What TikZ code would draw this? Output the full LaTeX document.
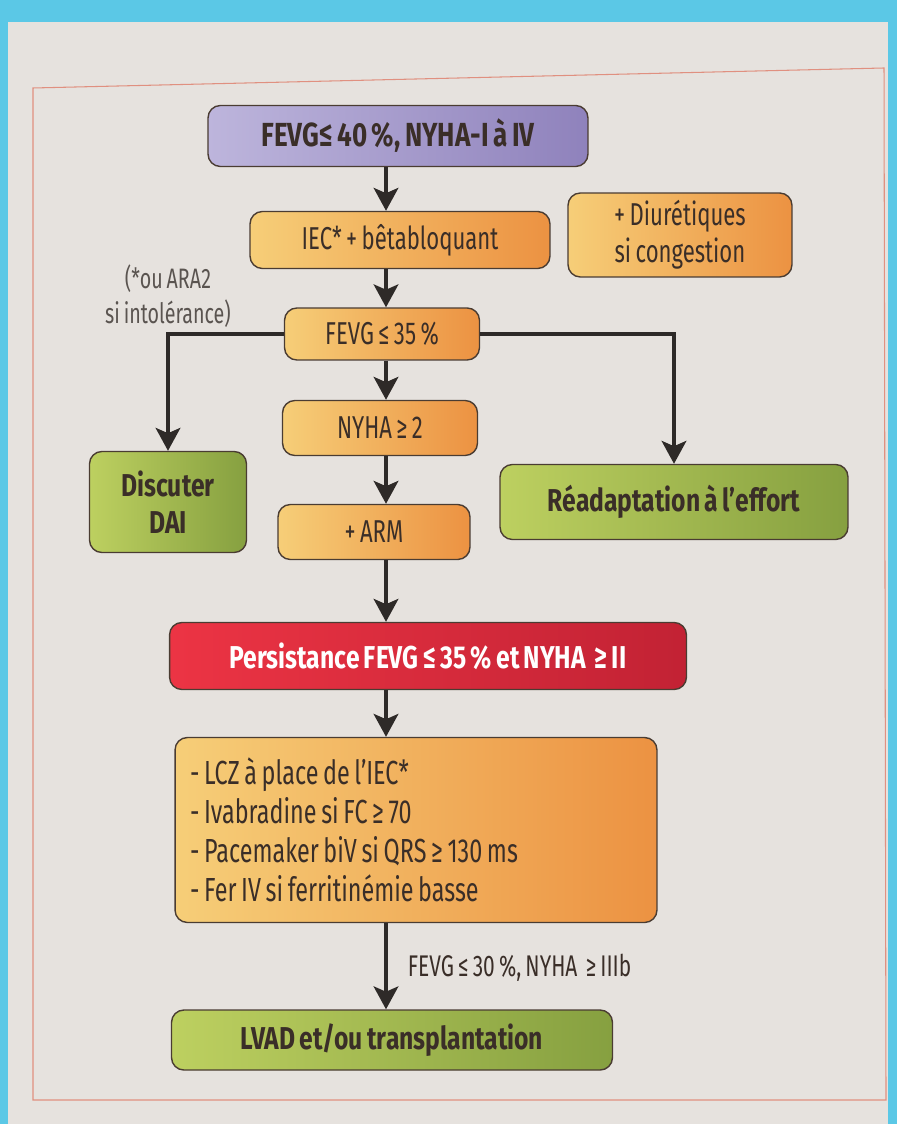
\documentclass[tikz,border=0pt]{standalone}
\usepackage{xcolor}
\usepackage{fontspec}
\setmainfont[FakeStretch=0.7, WordSpace=0.75, BoldFeatures={FakeStretch=0.78}]{Fira Sans}
\usepackage{tikz}
\usetikzlibrary{arrows.meta}

\definecolor{cyanb}{HTML}{5BC8E6}
\definecolor{paper}{HTML}{E6E2DE}
\definecolor{framec}{HTML}{E09080}
\definecolor{boxline}{HTML}{4A3C32}
\definecolor{arrowc}{HTML}{2E2A28}
\definecolor{lilaL}{HTML}{BDB5DC}
\definecolor{lilaR}{HTML}{8F82BC}
\definecolor{ambreL}{HTML}{F6CE78}
\definecolor{ambreR}{HTML}{EC9242}
\definecolor{vertL}{HTML}{BDD060}
\definecolor{vertR}{HTML}{86A040}
\definecolor{rougeL}{HTML}{EC3444}
\definecolor{rougeR}{HTML}{C22234}
\definecolor{textc}{HTML}{3A2E28}
\definecolor{notec}{HTML}{5A5450}

\begin{document}
\begin{tikzpicture}[x=0.02cm, y=-0.02cm,
    box/.style={draw=boxline, line width=0.8pt, rounded corners=7pt, align=center,
        inner sep=0pt, text=textc, font=\fontsize{18}{21}\selectfont},
    purplebox/.style={box, left color=lilaL, right color=lilaR},
    orangebox/.style={box, left color=ambreL, right color=ambreR},
    greenbox/.style={box, left color=vertL, right color=vertR},
    redbox/.style={box, left color=rougeL, right color=rougeR, text=white},
    arr/.style={line width=2.2pt, draw=arrowc, -{Stealth[length=13pt, width=14pt, inset=3pt]}}]

    % page and frame
    \fill[cyanb] (0,0) rectangle (897,1124);
    \fill[paper] (8,22) rectangle (888,1124);
    \draw[framec, line width=0.6pt] (33,88) -- (884,68) -- (886,1100) -- (33,1100) -- cycle;

    \coordinate (spine) at (386,0);

    \node[purplebox, minimum width=7.6cm, minimum height=1.22cm, font=\fontsize{19}{21}\selectfont] at (398,136) (fevg40) {\bfseries FEVG≤ 40 \%, NYHA-I à IV};
    \node[orangebox, minimum width=6cm, minimum height=1.14cm] at (400,240) (iec) {IEC* + bêtabloquant};
    \node[orangebox, minimum width=4.48cm, minimum height=1.68cm] at (680,235) (diur) {+ Diurétiques\\si congestion};
    \node[align=center, text=notec, font=\fontsize{16}{20}\selectfont] at (168,296) (note) {(*ou ARA2\\si intolérance)};

    \node[orangebox, minimum width=3.9cm, minimum height=1.04cm] at (382,334) (fevg35) {FEVG ≤ 35 \%};
    \node[orangebox, minimum width=3.9cm, minimum height=1.1cm] at (380,428) (nyha) {NYHA ≥ 2};
    \node[orangebox, minimum width=3.84cm, minimum height=1.1cm] at (374,532) (arm) {+ ARM};

    \node[greenbox, minimum width=3.14cm, minimum height=2.02cm] at (168,502) (dai) {\bfseries Discuter\\\bfseries DAI};
    \node[greenbox, minimum width=6.96cm, minimum height=1.5cm] at (674,502) (readapt) {\bfseries Réadaptation à l’effort};

    \node[redbox, minimum width=10.34cm, minimum height=1.34cm] at (428,656) (persist) {\bfseries Persistance FEVG ≤ 35 \% et NYHA ~≥ II};

    \node[orangebox, align=flush left, text width=9.04cm, inner xsep=0.3cm, minimum height=3.7cm,
        font=\fontsize{19}{22.2}\selectfont] at (416,830) (ttt)
        {- LCZ à place de l’IEC*\\- Ivabradine si FC ≥ 70\\- Pacemaker biV si QRS ≥ 130 ms\\- Fer IV si ferritinémie basse};

    \node[greenbox, minimum width=8.82cm, minimum height=1.2cm] at (392,1040) (lvad) {\bfseries LVAD et/ou transplantation};

    \draw[arr] (fevg40.south -| spine) -- (iec.north -| spine);
    \draw[arr] (iec.south -| spine) -- (fevg35.north -| spine);
    \draw[arr] (fevg35.south -| spine) -- (nyha.north -| spine);
    \draw[arr] (nyha.south -| spine) -- (arm.north -| spine);
    \draw[arr] (arm.south -| spine) -- (persist.north -| spine);
    \draw[arr] (persist.south -| spine) -- (ttt.north -| spine);
    \draw[arr] (ttt.south -| spine) -- node[right, pos=0.52, xshift=8pt, text=textc, font=\fontsize{17}{20}\selectfont] {FEVG ≤ 30 \%, NYHA ~≥ IIIb} (lvad.north -| spine);

    \draw[arr] (fevg35.west) -| (dai.north);
    \draw[arr] (fevg35.east) -| (readapt.north);
\end{tikzpicture}
\end{document}
